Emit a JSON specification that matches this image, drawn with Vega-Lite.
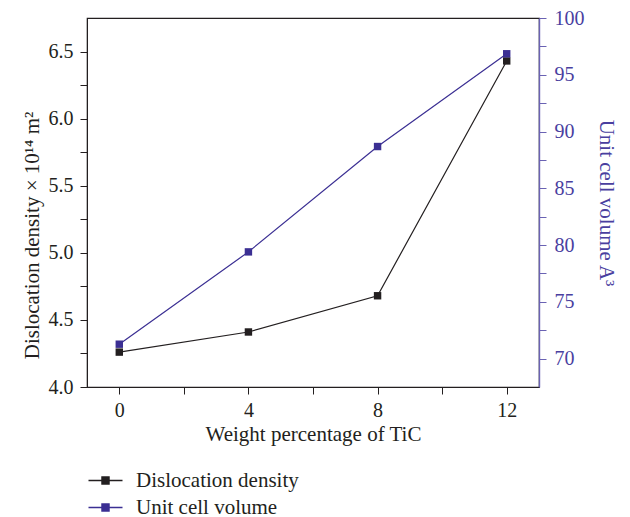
{
  "$schema": "https://vega.github.io/schema/vega-lite/v6.json",
  "width": 452,
  "height": 369,
  "autosize": {"type": "none"},
  "padding": {"left": 87, "top": 18, "right": 91, "bottom": 130},
  "background": "white",
  "config": {
    "font": "Liberation Serif",
    "view": {"stroke": "#231f20", "strokeWidth": 1.2},
    "axis": {
      "labelFont": "Liberation Serif",
      "titleFont": "Liberation Serif",
      "labelFontSize": 20,
      "titleFontSize": 21,
      "titleFontWeight": "normal",
      "grid": false,
      "tickSize": 7,
      "labelColor": "#231f20",
      "titleColor": "#231f20",
      "domainColor": "#231f20",
      "tickColor": "#231f20"
    }
  },
  "data": {
    "values": [
      {"wt": 0, "series": "Dislocation density", "value": 4.26},
      {"wt": 4, "series": "Dislocation density", "value": 4.41},
      {"wt": 8, "series": "Dislocation density", "value": 4.68},
      {"wt": 12, "series": "Dislocation density", "value": 6.43},
      {"wt": 0, "series": "Unit cell volume", "value": 71.27},
      {"wt": 4, "series": "Unit cell volume", "value": 79.4},
      {"wt": 8, "series": "Unit cell volume", "value": 88.68},
      {"wt": 12, "series": "Unit cell volume", "value": 96.85}
    ]
  },
  "encoding": {
    "x": {
      "field": "wt",
      "type": "quantitative",
      "scale": {"domain": [-1, 13], "nice": false, "zero": false},
      "axis": {
        "title": "Weight percentage of TiC",
        "values": [0, 2, 4, 6, 8, 10, 12],
        "labelExpr": "datum.value % 4 === 0 ? datum.label : ''",
        "labelPadding": 6,
        "titlePadding": 3
      }
    },
    "color": {
      "field": "series",
      "type": "nominal",
      "scale": {"domain": ["Dislocation density", "Unit cell volume"], "range": ["#231f20", "#3b2f93"]},
      "legend": {
        "title": null,
        "orient": "none",
        "legendX": 8,
        "legendY": 452,
        "direction": "vertical",
        "labelFont": "Liberation Serif",
        "labelFontSize": 21,
        "labelColor": "#231f20",
        "labelLimit": 500,
        "rowPadding": 5,
        "symbolType": "M-2,0H2M-0.42,-0.42H0.42V0.42H-0.42Z",
        "symbolSize": 289,
        "symbolStrokeWidth": 1.3,
        "labelOffset": 20,
        "encode": {
          "symbols": {
            "update": {
              "fill": {"scale": "color", "field": "value"},
              "stroke": {"scale": "color", "field": "value"}
            }
          }
        }
      }
    }
  },
  "layer": [
    {
      "transform": [{"filter": "datum.series === 'Dislocation density'"}],
      "encoding": {
        "y": {
          "field": "value",
          "type": "quantitative",
          "scale": {"domain": [4.0, 6.75], "nice": false, "zero": false},
          "axis": {
            "orient": "left",
            "title": "Dislocation density × 10¹⁴ m²",
            "values": [4.0, 4.25, 4.5, 4.75, 5.0, 5.25, 5.5, 5.75, 6.0, 6.25, 6.5],
            "labelExpr": "(datum.value * 2) % 1 === 0 ? format(datum.value, '.1f') : ''",
            "labelPadding": 7,
            "titlePadding": 6,
            "titleY": 217
          }
        }
      },
      "layer": [
        {"mark": {"type": "line", "strokeWidth": 1.2}},
        {"mark": {"type": "point", "shape": "square", "filled": true, "opacity": 1, "size": 55}}
      ]
    },
    {
      "transform": [{"filter": "datum.series === 'Unit cell volume'"}],
      "encoding": {
        "y": {
          "field": "value",
          "type": "quantitative",
          "scale": {"domain": [67.5, 100], "nice": false, "zero": false},
          "axis": {
            "orient": "right",
            "title": "Unit cell volume A³",
            "values": [70, 72.5, 75, 77.5, 80, 82.5, 85, 87.5, 90, 92.5, 95, 97.5, 100],
            "labelExpr": "datum.value % 5 === 0 ? datum.label : ''",
            "labelColor": "#4a3f9f",
            "titleColor": "#4a3f9f",
            "domainColor": "#6a62b3",
            "tickColor": "#6a62b3",
            "domainWidth": 1.4,
            "labelPadding": 8,
            "titlePadding": 11
          }
        }
      },
      "layer": [
        {"mark": {"type": "line", "strokeWidth": 1.2, "color": "#4a3fae"}},
        {"mark": {"type": "point", "shape": "square", "filled": true, "opacity": 1, "size": 55}}
      ]
    }
  ],
  "resolve": {"scale": {"y": "independent"}}
}
